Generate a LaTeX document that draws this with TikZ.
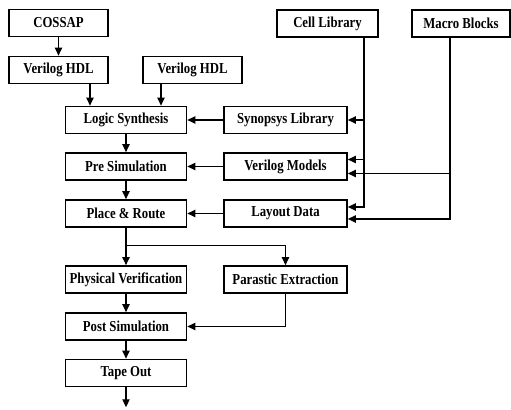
\documentclass[tikz,border=0pt]{standalone}
\usepackage{fontspec}
\setmainfont{Liberation Serif}[FakeStretch=0.84]
\usetikzlibrary{arrows.meta,calc}

\tikzset{
  box/.style={draw, line width=0.8pt, minimum height=13.5pt, inner sep=1pt,
              font=\fontsize{7.6}{9}\selectfont\bfseries},
  lbox/.style={box, minimum width=60.5pt},
  rbox/.style={box, minimum width=61.5pt},
  arr/.style={line width=0.65pt, -{Triangle[length=4pt,width=3.6pt]}},
}

\begin{document}
\begin{tikzpicture}[x=0.5pt,y=-0.5pt]
        \useasboundingbox (0,0) rectangle (511,410);
        % left column
        \node[box, minimum width=49.5pt] (cossap) at (58.5,23) {COSSAP};
        \node[box, minimum width=49.5pt] (vhdlA) at (58.5,70) {Verilog HDL};
        \node[box, minimum width=49.5pt] (vhdlB) at (192.5,70) {Verilog HDL};
        \node[lbox] (logic) at (126,120) {Logic Synthesis};
        \node[lbox] (presim) at (126,166.5) {Pre Simulation};
        \node[lbox] (place) at (126,213.5) {Place \& Route};
        \node[lbox] (phys) at (126,279.5) {Physical Verification};
        \node[lbox] (postsim) at (126,326.5) {Post Simulation};
        \node[lbox] (tape) at (126,373) {Tape Out};
        % right column
        \node[box, minimum width=50.5pt] (cell) at (327.5,23.5) {Cell Library};
        \node[box, minimum width=49pt] (macro) at (461,23.5) {Macro Blocks};
        \node[rbox] (synlib) at (285.5,120) {Synopsys Library};
        \node[rbox] (vmodel) at (285.5,166.5) {Verilog Models};
        \node[rbox] (layout) at (285.5,213.5) {Layout Data};
        \node[rbox] (parast) at (285.5,279.5) {Parastic Extraction};

        % bus lines and their taps
        \coordinate (celltap) at (364,0);
        \coordinate (macrotap) at (450,0);
        \coordinate (vmA) at ($(vmodel.east)+(0,-7)$);
        \coordinate (vmB) at ($(vmodel.east)+(0,7)$);
        \coordinate (ldA) at ($(layout.east)+(0,-6.5)$);
        \coordinate (ldB) at ($(layout.east)+(0,5.5)$);

        \draw[arr] (cossap) -- (vhdlA);
        \draw[arr] (vhdlA.south -| 90,0) -- (logic.north -| 90,0);
        \draw[arr] (vhdlB.south -| 161,0) -- (logic.north -| 161,0);
        \draw[arr] (synlib) -- (logic);
        \draw[arr] (logic) -- (presim);
        \draw[arr] (presim) -- (place);
        \draw[arr] (vmodel) -- (presim);
        \draw[arr] (layout) -- (place);

        % library feeds
        \draw[arr] (cell.south -| celltap) |- (ldA);
        \draw[arr] (synlib.east -| celltap) -- (synlib.east);
        \draw[arr] (vmA -| celltap) -- (vmA);
        \draw[arr] (macro.south -| macrotap) |- (ldB);
        \draw[arr] (vmB -| macrotap) -- (vmB);

        \draw[arr] (place.south) -- (phys.north);
        \draw[arr] (place.south) -- ++(0,18) -| (parast.north);
        \draw[arr] (phys) -- (postsim);
        \draw[arr] (parast.south) |- (postsim.east);
        \draw[arr] (postsim) -- (tape);
        \draw[arr] (tape.south) -- ++(0,20);
\end{tikzpicture}
\end{document}
